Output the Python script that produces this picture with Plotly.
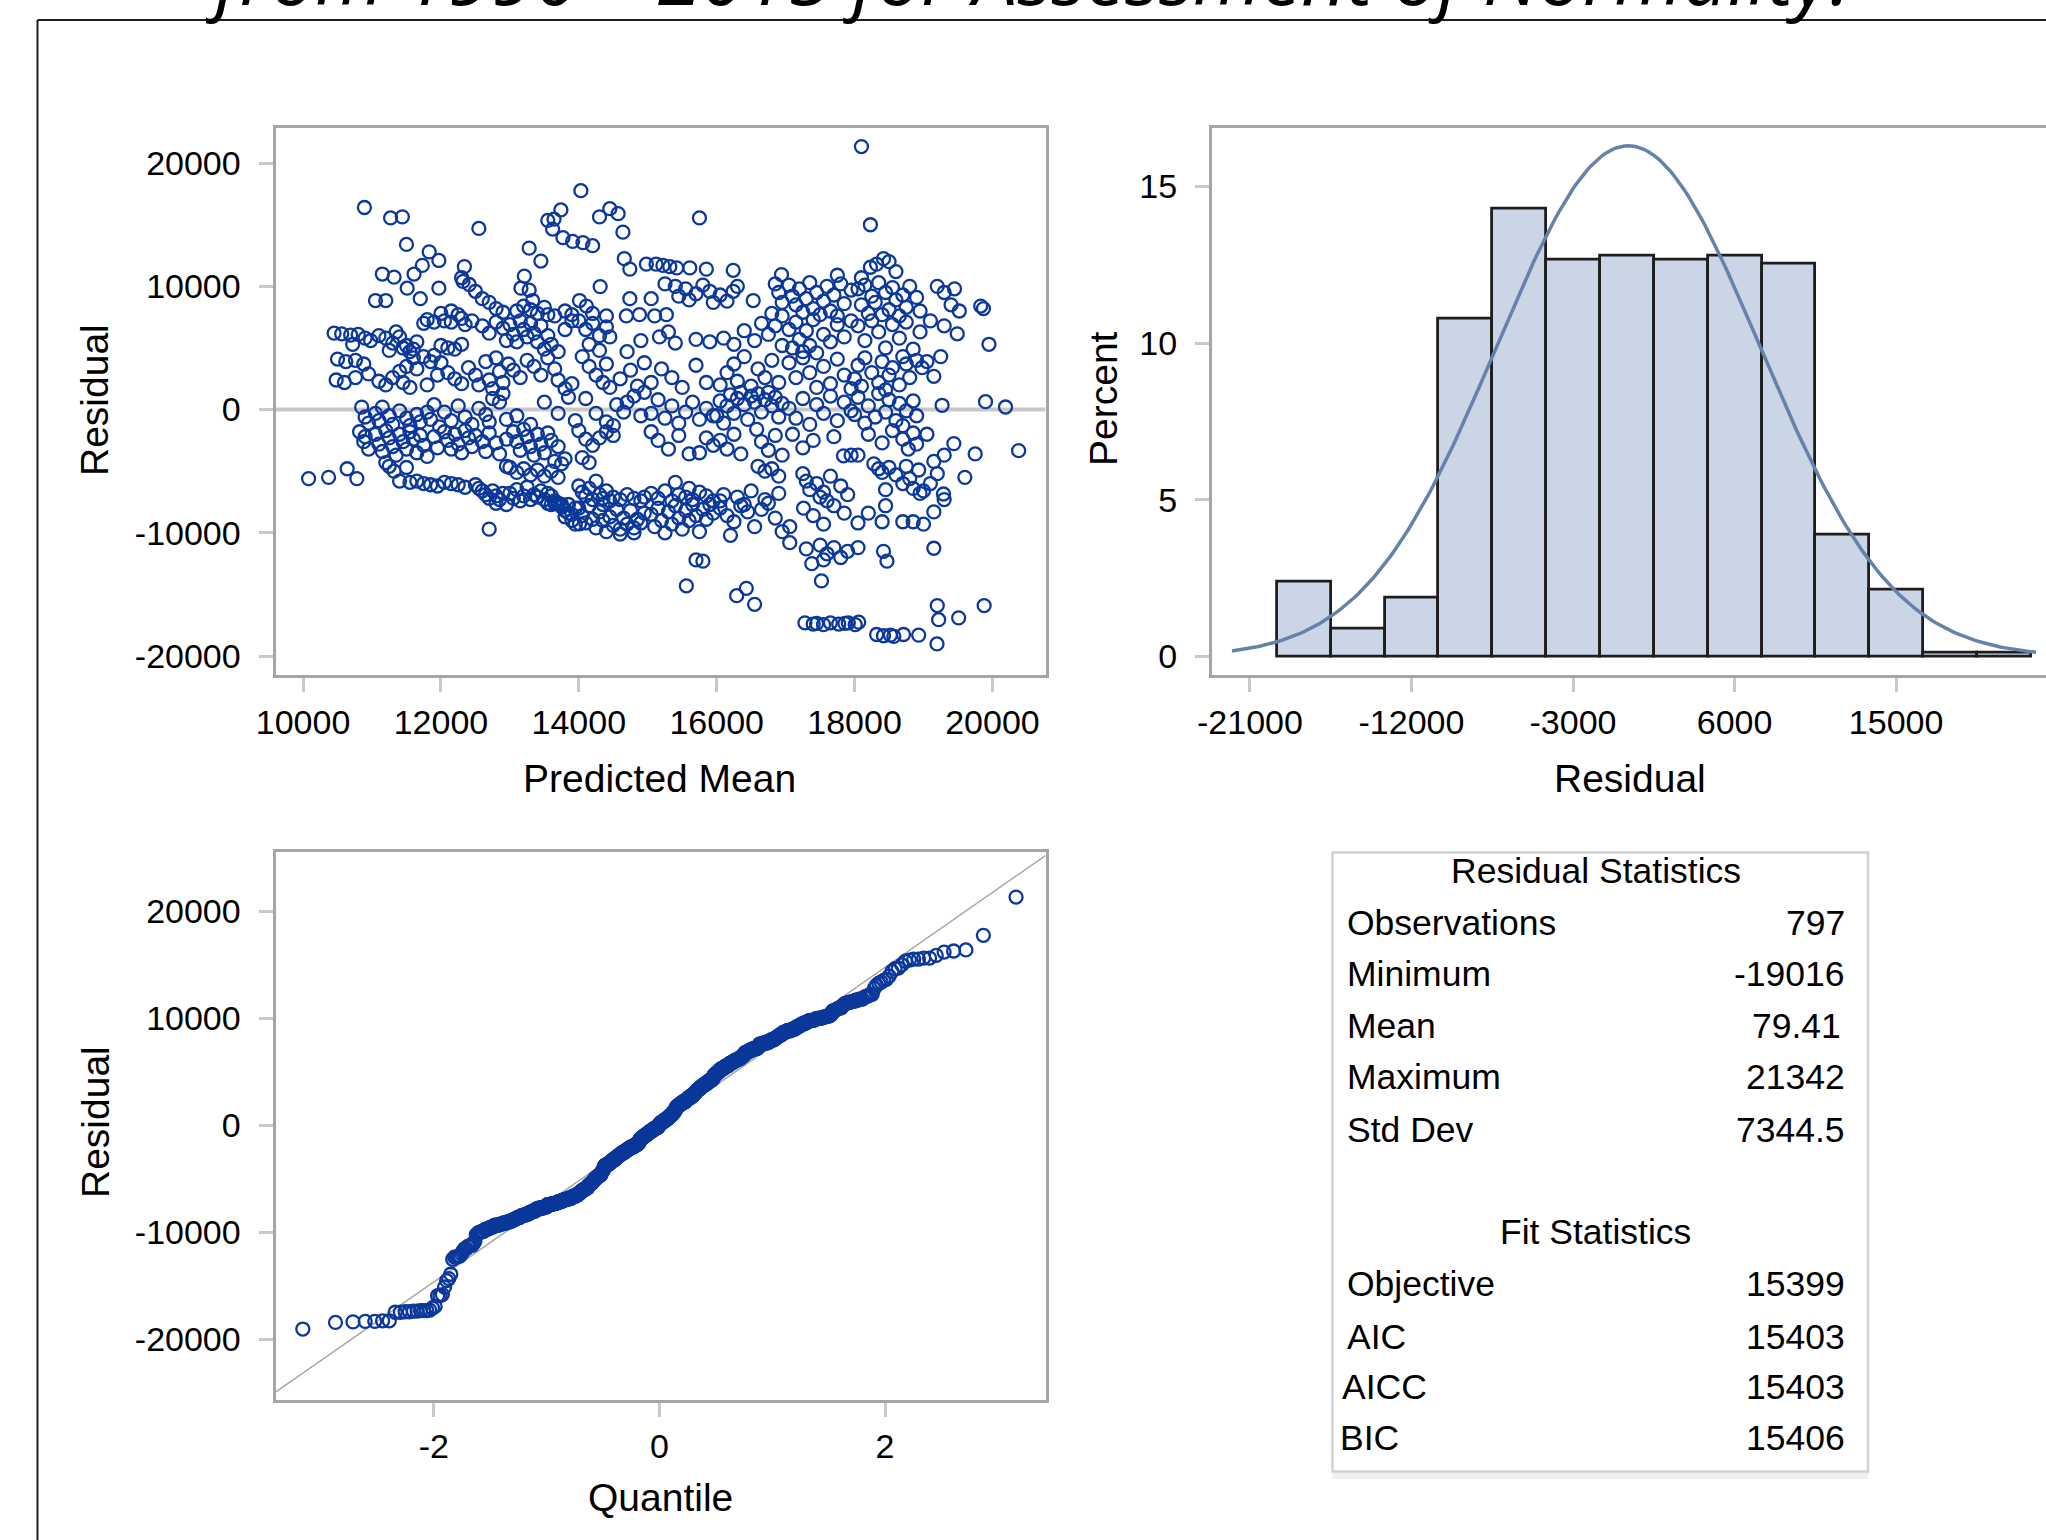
import math
from statistics import NormalDist
import plotly.graph_objects as go

# ---------------- DATA ----------------
# Residual vs predicted mean, grouped by region of predicted mean.
pred_r1 = [10450, 10560, 10690, 10800, 10900, 10980, 10720,
           10500, 10620, 10760, 10880, 10480, 10600, 10760, 10950,
           10850, 10900, 10950,
           10820, 10880, 10950, 10900,
           10080, 10370, 10640, 10780]
res_r1 = [6200, 6150, 6050, 6100, 5800, 5600, 5300,
          4100, 3900, 4000, 3700, 2400, 2200, 2600, 2900,
          200, -600, -1100,
          -1800, -2600, -3200, -2200,
          -5600, -5500, -4800, -5600]

pred_r2 = [11050, 11200, 11510, 11970, 11700,
           11100, 11200, 11300, 11400, 11500, 11550, 11350, 11600, 11750, 11800, 11900, 11650, 11450, 11250,
           11100, 11200, 11300, 11400, 11500, 11600, 11450, 11550, 11650, 11750, 11850, 11950, 11800, 11900,
           11050, 11100, 11150, 11250, 11300, 11400, 11500, 11550, 11650, 11700, 11800, 11850, 11900, 11980,
           11050, 11100, 11150, 11200, 11250, 11300, 11350, 11400, 11450, 11500, 11550, 11600, 11650, 11700, 11750, 11800, 11900, 11950,
           11200, 11320, 11400, 11550, 11650, 11750, 11850, 11950, 11500, 11250]
res_r2 = [8850, 8850, 9850, 9850, 9000,
          6000, 5800, 5400, 5900, 5200, 4700, 6300, 4900, 7000, 7300, 7100, 5500, 5000, 4800,
          2300, 2000, 2600, 3100, 3500, 4200, 2200, 1800, 3300, 4300, 3900, 2800, 2000, 4400,
          -300, -900, 200, -500, -1200, -100, -700, -1300, -400, -1000, -200, -800, 400, -1400,
          -2000, -2800, -3400, -1700, -2300, -3000, -3700, -2000, -2600, -3200, -1800, -2400, -3500, -2100, -2900, -3800, -2200, -3100,
          -4300, -5000, -5800, -5900, -5800, -6000, -6100, -6200, -4700, -4600]

pred_r3 = [12320, 12410, 12500, 12600, 12700, 12800, 12900, 12000, 12150, 12250,
           12050, 12150, 12300, 12450, 12350, 12000, 12100, 12200, 12300, 12600, 12700, 12800, 12900, 12950,
           12000, 12100, 12200, 12300, 12400, 12500, 12550, 12650, 12700, 12750, 12800, 12850, 12900, 12980,
           12050, 12150, 12250, 12350, 12450, 12550, 12650, 12700, 12750, 12850, 12900, 12950,
           12050, 12100, 12150, 12200, 12250, 12300, 12350, 12400, 12450, 12500, 12600, 12650, 12700, 12800, 12850, 12950,
           12050, 12150, 12250, 12350, 12500, 12550, 12600, 12650, 12700, 12750, 12800, 12850, 12900, 12950,
           12700, 12800, 12950]
res_r3 = [10400, 10150, 9600, 9000, 8700, 8200, 7900, 7800, 8000, 7700,
          7200, 7100, 7400, 7200, 6900, 5200, 5000, 4900, 5300, 6800, 6200, 7100, 6600, 5600,
          3800, 3000, 2500, 2100, 3400, 2800, 2000, 3900, 2400, 1700, 4200, 3100, 2200, 3700,
          -200, -900, 300, -600, -1200, 100, -400, -1000, 900, 600, 1300, -800,
          -1800, -2500, -3200, -2000, -2800, -3500, -1700, -2300, -3000, -2100, -2600, -3400, -1900, -2700, -3600, -2400,
          -5900, -6000, -6100, -6300, -6100, -6400, -6600, -6900, -7200, -6600, -7000, -7300, -6800, -4600,
          -9700, -7600, -7700]

pred_r4 = [13160, 13280, 13330, 13100, 13200, 13300, 13400, 13500, 13550, 13650, 13800, 13900,
           13000, 13050, 13100, 13150, 13200, 13250, 13300, 13350, 13400, 13450, 13500, 13550, 13600, 13700, 13800, 13900,
           13050, 13150, 13250, 13350, 13450, 13550, 13650, 13700, 13800, 13900,
           13100, 13300, 13500, 13700, 13850, 13950,
           13050, 13100, 13150, 13200, 13250, 13300, 13350, 13400, 13450, 13500, 13550, 13600, 13650, 13700, 13750, 13800,
           13000, 13050, 13100, 13150, 13200, 13250, 13300, 13350, 13400, 13450, 13500, 13550, 13600, 13650,
           13000, 13100, 13200, 13300, 13400, 13500, 13600, 13700,
           13700, 13750, 13800, 13850, 13900, 13950, 13650, 13550, 13800, 13900, 13950, 13850, 13750, 13600]
res_r4 = [9850, 9700, 8850, 8000, 8400, 8100, 7800, 8300, 7700, 7600, 8000, 7700,
          6900, 6100, 5500, 7200, 6500, 5900, 7000, 6200, 5500, 6800, 4900, 6000, 5300, 4700, 6500, 7200,
          3200, 2600, 4000, 3500, 2800, 4200, 3300, 2400, 1700, 2100,
          -500, -1200, 600, -300, 1000, -900,
          -1800, -2600, -3300, -1600, -2200, -3000, -3700, -2000, -2800, -3500, -1900, -2500, -4200, -3000, -4400, -4000,
          -6800, -7200, -6500, -7400, -7000, -6300, -7300, -6900, -7100, -6600, -7300, -6800, -7000, -7400,
          -4700, -5100, -4800, -5300, -4900, -5400, -5000, -5500,
          -7600, -7900, -8200, -7700, -8500, -8000, -7600, -7600, -8700, -9000, -9300, -8400, -7700, -7700]

pred_r5 = [14010, 14110, 14310, 14740, 14690, 14880, 14200, 14400,
           14000, 14100, 14200, 14300, 14400, 14450, 14150, 14300, 14700, 14900,
           14050, 14150, 14250, 14350, 14400, 14450, 14600, 14750, 14850, 14950,
           14100, 14250, 14400, 14500, 14550, 14650, 14700, 14800, 14900, 14950,
           14000, 14100, 14200, 14300, 14400, 14500, 14050, 14150,
           14000, 14050, 14100, 14150, 14200, 14300, 14350, 14400, 14450, 14500, 14600, 14700, 14800, 14900, 14250, 14950,
           14000, 14050, 14100, 14150, 14200, 14250, 14300, 14350, 14400, 14450, 14500, 14550, 14600, 14650, 14700, 14750,
           14800, 14850, 14900, 14950, 14600, 14800, 14010, 14350]
res_r5 = [8850, 8400, 9980, 9000, 7600, 7700, 7800, 7600,
          7200, 6500, 7000, 6000, 6700, 5900, 5300, 4800, 4700, 5600,
          4300, 3500, 2800, 2200, 3700, 1800, 2500, 3200, 1900, 3800,
          900, -300, -1000, -1300, 400, -200, 600, 1100, -500, 1400,
          -1700, -2400, -2900, -2300, -1800, -2100, -3900, -4300,
          -6200, -6700, -7000, -6400, -7300, -6900, -7200, -6600, -7400, -7100, -7300, -6900, -7200, -7400, -5800, -7100,
          -8000, -8600, -9200, -7800, -8900, -9600, -8300, -9000, -9900, -8700, -9400, -8100, -9700, -8800, -9300, -8200,
          -9600, -8900, -9200, -8400, -10100, -10000, -9270, -7700]

pred_r6 = [15250, 15400, 15450, 15550, 15600, 15700, 15800, 15900, 15950, 15050, 15270, 15100,
           15170, 15300, 15400, 15700, 15900,
           15050, 15200, 15350, 15500, 15700, 15850,
           15050, 15150, 15250, 15350, 15450, 15550, 15650, 15750, 15850, 15950,
           15050, 15150, 15300, 15450, 15600, 15750, 15850, 15950,
           15050, 15150, 15250, 15350, 15450, 15550, 15650, 15750, 15850, 15950, 15400, 15600,
           15050, 15100, 15150, 15200, 15250, 15300, 15350, 15400, 15450, 15500, 15550, 15600, 15650, 15700, 15750,
           15800, 15850, 15900, 15950]
res_r6 = [10200, 10000, 9200, 9800, 8900, 9400, 10100, 9600, 8700, 9000, 7700, 7600,
          5900, 6300, 5400, 5700, 5500,
          2200, 3300, 2600, 1800, 3600, 2200,
          -300, 800, -700, 300, -1100, -200, 600, -800, 100, -500,
          -1800, -2500, -3200, -2100, -3600, -3500, -2300, -2900,
          -6800, -7200, -6600, -7400, -6900, -7100, -7300, -6700, -7000, -7400, -5900, -6400,
          -8500, -9500, -8000, -9000, -10000, -8300, -9300, -7800, -8800, -9700, -8200, -9000, -7700, -8600, -9900,
          -8100, -8900, -7700, -8400]

pred_r7 = [16050, 16150, 16240, 16300, 16530, 16850, 16900, 16950, 16800, 16950,
           16100, 16250, 16400, 16550, 16650, 16750, 16850, 16950,
           16050, 16150, 16250, 16300, 16400, 16500, 16600, 16700, 16800, 16900,
           16000, 16050, 16100, 16150, 16200, 16250, 16300, 16350, 16400, 16450,
           16500, 16550, 16600, 16650, 16700, 16750, 16800, 16850, 16900, 16950,
           16050, 16150, 16250, 16350, 16580, 16650, 16750, 16850, 16950,
           16600, 16700, 16800, 16900, 16100, 16300, 16500, 16700, 16900, 16050,
           16050, 16150, 16250, 16350, 16450, 16550, 16650, 16750, 16850, 16950, 16200, 16400]
res_r7 = [9300, 8800, 9600, 10000, 8850, 10200, 9500, 8700, 7800, 7600,
          5800, 5300, 6400, 5600, 7000, 6100, 6800, 5200,
          2000, 3000, 3700, 2300, 4300, 1900, 3300, 2600, 4000, 2200,
          -500, 700, -1100, 300, 1200, -300, 900, 1400, 400, -800,
          1100, 600, 1300, -200, 800, 1400, 300, 1000, -600, 500,
          -2500, -3200, -2000, -3600, -1600, -2600, -3300, -2100, -3700,
          -4600, -5000, -4800, -5400, -6900, -7100, -6600, -7300, -6800, -7400,
          -8000, -8600, -9100, -7800, -8300, -9500, -8100, -7600, -8800, -9900, -10200, -7700]

pred_r8 = [17050, 17100, 17150, 17200, 17250, 17300, 17350, 17400, 17450, 17500, 17550, 17600, 17650, 17700,
           17750, 17800, 17850, 17950,
           17050, 17100, 17150, 17200, 17250, 17300, 17350, 17400, 17450, 17550, 17650, 17750, 17850, 17950,
           17050, 17150, 17250, 17350, 17450, 17550, 17650, 17750, 17850, 17950,
           17050, 17150, 17250, 17350, 17450, 17550, 17650, 17750, 17850, 17950,
           17100, 17250, 17400, 17840, 17950, 17700,
           17250, 17300, 17350, 17450, 17550, 17650, 17500, 17600, 17800, 17900,
           17060, 17260, 17400, 17550, 17700, 17850]
res_r8 = [10100, 9200, 8500, 9800, 7900, 9000, 10300, 8200, 9500, 7700, 8800, 10000, 8000, 9300,
          7600, 10200, 8600, 9700,
          6500, 5000, 7100, 5700, 4700, 6400, 5200, 7300, 4600, 6100, 5500, 6900, 5900, 7200,
          3800, 2600, 4200, 3000, 1800, 3500, 2100, 4100, 2800, 1700,
          100, -700, 900, -1200, 400, -300, 1100, -900, 600, -100,
          -2000, -3100, -2500, -3750, -3700, -2200,
          -5200, -5800, -6500, -6000, -6700, -5400, -7100, -7400, -6200, -6900,
          -9500, -8000, -8600, -9300, -7800, -8400]

pred_r9 = [18050, 18100, 18150, 18200, 18250, 18300, 18350, 18400, 18450, 18500, 18550, 18600, 18650, 18700,
           18750, 18800, 18900, 18950,
           18050, 18150, 18250, 18350, 18450, 18550, 18650, 18750, 18850, 18950,
           18000, 18050, 18100, 18150, 18250, 18350, 18400, 18450, 18500, 18550, 18650, 18700, 18750, 18800,
           18900, 18980,
           18000, 18050, 18150, 18200, 18300, 18350, 18450, 18500, 18600, 18650, 18700, 18750, 18850, 18900,
           18050, 18200, 18400, 18550, 18700, 18780, 18850, 18900,
           18280, 18350, 18400, 18500, 18600, 18700, 18750, 18800, 18850, 18930, 18950, 18450,
           18050, 18200, 18400, 18450, 18700, 18850]
res_r9 = [9800, 8500, 10100, 7800, 9200, 8700, 10300, 7700, 9500, 8100, 9900, 8900, 7600, 9300,
          8300, 10000, 9100, 8000,
          6800, 5600, 7200, 6300, 5000, 6900, 5800, 7100, 4900, 6300,
          2500, 3600, 1900, 4200, 3000, 2200, 3900, 1600, 2800, 3400, 2000, 4300, 3700, 2600,
          4000, 3400,
          -400, 1000, -1100, 300, -600, 1300, -200, 800, -900, 500, -1300, -100, 700, -500,
          -3700, -2000, -2700, -1700, -2400, -3200, -1900, -2800,
          -4400, -4800, -5100, -4700, -5300, -6000, -4600, -5600, -6400, -4900, -6800, -6500,
          -9200, -8400, -9100, -7800, -9100, -9100]

pred_r10 = [19200, 19300, 19400, 19450, 19520, 19830, 19870,
            19490, 19950, 19100, 19300,
            19050, 19150, 19250,
            19270, 19900, 20190,
            19440, 19750, 20380, 19300, 19050, 19150,
            19290, 19300, 19200, 19100, 19600, 19000,
            19000, 19150]
res_r10 = [10000, 9500, 8500, 9800, 8000, 8400, 8200,
           6150, 5300, 7200, 6800,
           3900, 2700, 4300,
           350, 640, 210,
           -2760, -3600, -3330, -3700, -2000, -4200,
           -6850, -7300, -5200, -6000, -5500, -6600,
           -9300, -8300]

pred_low_tail = [17280, 17400, 17450, 17550, 17650, 17770, 17860, 17910, 18010, 18060,
                 18320, 18420, 18520, 18570, 18710, 18930, 19196, 19220, 19510,
                 19200, 19880, 16290, 16430, 16550, 15560, 17520,
                 15700, 15800, 19150, 17060, 17300, 17380, 17500, 17550, 17600, 17700,
                 17800, 17900, 18050, 18420, 18470]
res_low_tail = [-17300, -17400, -17350, -17450, -17300, -17400, -17350, -17300, -17450, -17250,
                -18250, -18350, -18300, -18400, -18250, -18300, -19016, -17050, -16900,
                -15900, -15900, -15100, -14500, -15800, -14300, -13900,
                -12200, -12300, -11250, -10800, -11300, -12500, -11000, -12200, -11700, -11200,
                -12000, -11500, -11200, -11500, -12300]

pred_high_tail = [18100, 14030,
                  10890, 11270, 11440, 12550, 13740, 13640, 13550, 13620, 13770, 13910, 14300, 14450,
                  14570, 14640, 15750, 18230, 14060,
                  14200, 11500, 13280, 13450, 14660, 14740, 14980, 15120, 15220, 11830, 11970, 11730,
                  11610, 11150, 11320, 12340, 13210, 18420, 18320, 18230, 18500, 15320, 15420, 15610,
                  15850, 16240, 16940, 17750, 18100, 12300, 18600]
res_high_tail = [21342, 17765,
                 16400, 15550, 15640, 14700, 16200, 15450, 15350, 14650, 13950, 13650, 15640, 16300,
                 15900, 14400, 15550, 15000, 13550,
                 13300, 13400, 13100, 12050, 12250, 11400, 11800, 11800, 11700, 12800, 12100, 11700,
                 11000, 11000, 10750, 11600, 10830, 12250, 11800, 11550, 12000, 11600, 11500, 11500,
                 11400, 11300, 10950, 10900, 10700, 10700, 11200]

pred_groups = [pred_r1, pred_r2, pred_r3, pred_r4, pred_r5, pred_r6, pred_r7, pred_r8, pred_r9,
               pred_r10, pred_low_tail, pred_high_tail]
res_groups = [res_r1, res_r2, res_r3, res_r4, res_r5, res_r6, res_r7, res_r8, res_r9,
              res_r10, res_low_tail, res_high_tail]
for a, b in zip(pred_groups, res_groups):
    assert len(a) == len(b), (len(a), len(b))
pred_mean = [v for g in pred_groups for v in g]
residual = [v for g in res_groups for v in g]

# Summary statistics (from the reference table) and histogram binning
resid_mean = 79.41
resid_std = 7344.5
bin_start, bin_end, bin_width = -19500, 22500, 3000

title_text = "from 1990 – 2015 for Assessment of Normality."

stat_labels = ["Observations", "Minimum", "Mean", "Maximum", "Std Dev"]
stat_values = ["797", "-19016", "79.41", "21342", "7344.5"]
fit_labels = ["Objective", "AIC", "AICC", "BIC"]
fit_values = ["15399", "15403", "15403", "15406"]

resid_ticks = [-20000, -10000, 0, 10000, 20000]
resid_tick_text = ["-20000", "-10000", "0", "10000", "20000"]
pred_ticks = [10000, 12000, 14000, 16000, 18000, 20000]
pred_tick_text = ["10000", "12000", "14000", "16000", "18000", "20000"]
hist_x_ticks = [-21000, -12000, -3000, 6000, 15000]
hist_x_tick_text = ["-21000", "-12000", "-3000", "6000", "15000"]
hist_y_ticks = [0, 5, 10, 15]
qq_ticks = [-2, 0, 2]
qq_tick_text = ["-2", "0", "2"]

# ---------------- FIGURE ----------------
W, H = 2046, 1540


def fx(p):
    return p / W


def fy(p):
    return 1 - p / H


BLUE = "#0B389A"
FONT = "Liberation Sans, Arial, sans-serif"
MARKER = dict(symbol="circle-open", size=13, color=BLUE, line=dict(width=2.3, color=BLUE))

fig = go.Figure()

# Residual vs predicted
fig.add_trace(go.Scatter(
    x=pred_mean, y=residual, mode="markers", xaxis="x", yaxis="y",
    marker=MARKER, showlegend=False, hoverinfo="skip"))

# Histogram
fig.add_trace(go.Histogram(
    x=residual, xaxis="x2", yaxis="y2", histnorm="percent",
    xbins=dict(start=bin_start, end=bin_end, size=bin_width),
    marker=dict(color="#CAD5E5", line=dict(color="#1E1E1E", width=2.8)),
    showlegend=False, hoverinfo="skip"))

nd = NormalDist(resid_mean, resid_std)
curve_x = [x for x in range(-22000, 22801, 200)]
curve_y = [100 * bin_width * nd.pdf(x) for x in curve_x]
fig.add_trace(go.Scatter(
    x=curve_x, y=curve_y, mode="lines", xaxis="x2", yaxis="y2",
    line=dict(color="#6682AA", width=3.5), showlegend=False, hoverinfo="skip"))

# Q-Q plot
std_norm = NormalDist()
sorted_res = sorted(residual)
n = len(sorted_res)
qq_x = [std_norm.inv_cdf((i + 1 - 0.375) / (n + 0.25)) for i in range(n)]
qq_range = [-3.404, 3.423]
fig.add_trace(go.Scatter(
    x=qq_range, y=[resid_mean + resid_std * q for q in qq_range], mode="lines",
    xaxis="x3", yaxis="y3", line=dict(color="#A8A8A8", width=1.5),
    showlegend=False, hoverinfo="skip"))
fig.add_trace(go.Scatter(
    x=qq_x, y=sorted_res, mode="markers", xaxis="x3", yaxis="y3",
    marker=MARKER, showlegend=False, hoverinfo="skip"))

axis_common = dict(
    showline=True, linecolor="#A2A6AB", linewidth=3, mirror=True,
    ticks="outside", ticklen=14, tickwidth=3, tickcolor="#C9C9C9",
    showgrid=False, zeroline=False, automargin=False,
    tickfont=dict(family=FONT, size=34, color="black"),
)
xstand = dict(ticklabelstandoff=1)
ystand = dict(ticklabelstandoff=11)

fig.update_layout(
    template="none",
    width=W, height=H, autosize=False,
    margin=dict(l=0, r=0, t=0, b=0, pad=0, autoexpand=False),
    paper_bgcolor="white", plot_bgcolor="white",
    bargap=0,
    xaxis=dict(axis_common, **xstand, domain=[fx(275.5), fx(1045.5)], range=[9600, 20770],
               tickvals=pred_ticks, ticktext=pred_tick_text, anchor="y"),
    yaxis=dict(axis_common, **ystand, domain=[fy(674.8), fy(127.5)], range=[-21520, 22890],
               tickvals=resid_ticks, ticktext=resid_tick_text, anchor="x"),
    xaxis2=dict(axis_common, **xstand, domain=[fx(1212), 1.0], range=[-23114, 23350],
                tickvals=hist_x_ticks, ticktext=hist_x_tick_text, anchor="y2"),
    yaxis2=dict(axis_common, **ystand, domain=[fy(674.8), fy(127.5)], range=[-0.585, 16.88],
                tickvals=hist_y_ticks, anchor="x2", mirror=False),
    xaxis3=dict(axis_common, **xstand, domain=[fx(275.5), fx(1045.5)], range=qq_range,
                tickvals=qq_ticks, ticktext=qq_tick_text, anchor="y3"),
    yaxis3=dict(axis_common, **ystand, domain=[fy(1399.5), fy(852)], range=[-25600, 25550],
                tickvals=resid_ticks, ticktext=resid_tick_text, anchor="x3"),
)

shapes = []
# zero reference line in residual plot
shapes.append(dict(type="line", xref="x", yref="y", x0=9600, x1=20770, y0=0, y1=0,
                   line=dict(color="#C8C8C8", width=4), layer="below"))
# outer frame (left and top edges; the rest lies outside the picture)
shapes.append(dict(type="line", xref="paper", yref="paper", x0=fx(37.5), x1=fx(37.5), y0=0, y1=fy(20),
                   line=dict(color="#1E1E1E", width=2)))
shapes.append(dict(type="line", xref="paper", yref="paper", x0=fx(37.5), x1=1, y0=fy(20), y1=fy(20),
                   line=dict(color="#1E1E1E", width=2)))
# stats table box
shapes.append(dict(type="rect", xref="paper", yref="paper", x0=fx(1332.5), x1=fx(1868),
                   y0=fy(1479), y1=fy(1471), fillcolor="#EFEFEF", line=dict(width=0)))
shapes.append(dict(type="rect", xref="paper", yref="paper", x0=fx(1332.5), x1=fx(1868),
                   y0=fy(1471.5), y1=fy(852.6), line=dict(color="#D2D2D2", width=2.5)))
fig.update_layout(shapes=shapes)

ann = []


def text(x, y, s, size, xanchor="center", angle=0, family=FONT):
    ann.append(dict(xref="paper", yref="paper", x=fx(x), y=fy(y), text=s, showarrow=False,
                    xanchor=xanchor, yanchor="middle", textangle=angle,
                    font=dict(family=family, size=size, color="black")))


# axis titles
text(659, 778, "Predicted Mean", 39)
text(95, 400, "Residual", 39, angle=-90)
text(1630, 778, "Residual", 39)
text(1104, 399, "Percent", 39, angle=-90)
text(660, 1497, "Quantile", 39)
text(95, 1122, "Residual", 39, angle=-90)

# table text
TS = 35.5
text(1595.5, 871, "Residual Statistics", TS)
row_y = [923, 974, 1025.6, 1077, 1129.6]
for lab, val, yy in zip(stat_labels, stat_values, row_y):
    text(1345, yy, lab, TS, xanchor="left")
    text(1847 if val != "79.41" else 1843, yy, val, TS, xanchor="right")
text(1595.5, 1232, "Fit Statistics", TS)
fit_y = [1284, 1336.5, 1387, 1438]
fit_x = [1345, 1345, 1340, 1338]
for lab, val, yy, xx in zip(fit_labels, fit_values, fit_y, fit_x):
    text(xx, yy, lab, TS, xanchor="left")
    text(1847, yy, val, TS, xanchor="right")

# title: only its lower part shows at the very top, as in the reference
ann.append(dict(xref="paper", yref="paper", x=fx(1027.5), y=fy(30), text=title_text,
                showarrow=False, xanchor="center", yanchor="bottom",
                font=dict(family="Open Sans", size=79, color="black", style="italic")))

fig.update_layout(annotations=ann)

fig.write_html(
    "out.html",
    config={"displayModeBar": False},
    post_script=(
        "document.documentElement.style.margin='0';"
        "document.documentElement.style.overflow='hidden';"
        "document.body.style.margin='0';document.body.style.overflow='hidden';"
        "var gd=document.querySelector('.plotly-graph-div');"
        "gd.style.position='absolute';gd.style.left='0px';gd.style.top='0px';"
    ),
)
